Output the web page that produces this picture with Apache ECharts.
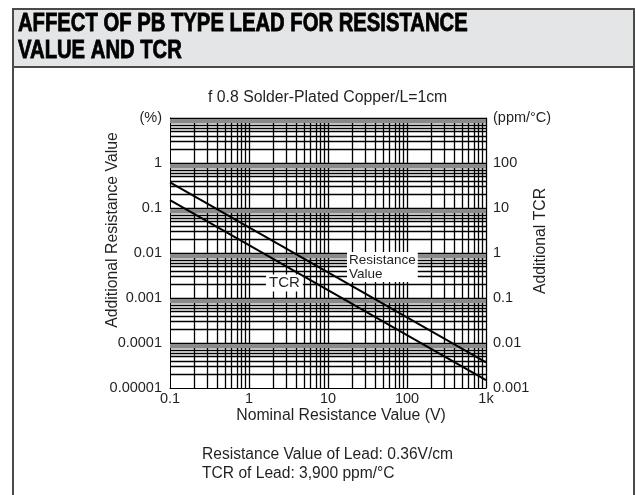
<!DOCTYPE html>
<html>
<head>
<meta charset="utf-8">
<script src="https://cdn.jsdelivr.net/npm/echarts@6/dist/echarts.min.js"></script>
<style>
html, body { margin: 0; padding: 0; background: #fff; }
#main { width: 636px; height: 495px; }
</style>
</head>
<body>
<div id="main"></div>
<script>
var xTickLabels = ['0.1', '1', '10', '100', '1k'];
var yLeftLabels = ['0.00001', '0.0001', '0.001', '0.01', '0.1', '1', '(%)'];
var yRightLabels = ['0.001', '0.01', '0.1', '1', '10', '100', '(ppm/°C)'];

// nominal resistance (ohm) at both ends of the plot
var nominal = [0.1, 1000];
// additional resistance value (%)
var resistanceValue = [0.37, 0.000037];
// additional TCR, drawn on the % scale (x100 = ppm/°C)
var tcrValue = [0.15, 0.000015];

var ink = '#231f20';
var font = 'Liberation Sans';

// log paper lines
var gridLines = [];
var e, m;
for (e = -1; e < 3; e++) {
  for (m = 1; m <= 9; m++) {
    if (e === -1 && m === 1) continue;
    gridLines.push({ xAxis: m * Math.pow(10, e) });
  }
}
gridLines.push({ xAxis: 1000 });
for (e = -5; e < 1; e++) {
  for (m = 1; m <= 9; m++) {
    if (e === -5 && m === 1) continue;
    gridLines.push({ yAxis: m * Math.pow(10, e) });
  }
}
gridLines.push({ yAxis: 10 });
// the grey bands just under each decade line
var greyMant = [0.8, 0.85, 0.9, 0.95];
for (e = -4; e <= 1; e++) {
  greyMant.forEach(function (g) {
    gridLines.push({ yAxis: g * Math.pow(10, e), lineStyle: { color: '#8a8a8a', width: 1 } });
  });
}

var myChart = echarts.init(document.getElementById('main'), null, { renderer: 'canvas' });

function logIdx(v, base) {
  return Math.round(Math.log(v) / Math.LN10) - base;
}

var option = {
  backgroundColor: '#fff',
  animation: false,
  textStyle: { fontFamily: font },
  grid: { left: 170, right: 150, top: 118, bottom: 107 },
  graphic: [
    { type: 'rect', shape: { x: 13, y: 9, width: 621, height: 58 },
      style: { fill: '#e4e5e6', stroke: '#4a4a4a', lineWidth: 2 } },
    { type: 'line', shape: { x1: 13, y1: 67, x2: 13, y2: 495 },
      style: { stroke: '#4a4a4a', lineWidth: 2 } },
    { type: 'line', shape: { x1: 634, y1: 67, x2: 634, y2: 495 },
      style: { stroke: '#4a4a4a', lineWidth: 2 } },
    { type: 'text', x: 18, y: 11, scaleX: 0.81,
      style: { text: 'AFFECT OF PB TYPE LEAD FOR RESISTANCE\nVALUE AND TCR',
        font: 'bold 25px "Liberation Sans"', lineHeight: 27, fill: '#000',
        stroke: '#000', lineWidth: 0.8 } },
    { type: 'text', x: 208, y: 90,
      style: { text: 'f 0.8 Solder-Plated Copper/L=1cm', font: '15.8px "Liberation Sans"', fill: ink } },
    { type: 'text', x: 202, y: 445,
      style: { text: 'Resistance Value of Lead: 0.36V/cm\nTCR of Lead: 3,900 ppm/°C',
        font: '15.6px "Liberation Sans"', lineHeight: 19, fill: ink } }
  ],
  xAxis: {
    type: 'log', min: 0.1, max: 1000, interval: 1,
    name: 'Nominal Resistance Value (V)', nameLocation: 'middle', nameGap: 20,
    nameMoveOverlap: false,
    nameTextStyle: { fontSize: 15.8, color: ink, padding: [0, 0, 0, 26] },
    axisLine: { lineStyle: { color: '#000', width: 1 } },
    axisTick: { show: false },
    splitLine: { show: false },
    axisLabel: { fontSize: 14.5, color: ink, margin: 3, showMinLabel: true, showMaxLabel: true,
      formatter: function (v) { return xTickLabels[logIdx(v, -1)]; } }
  },
  yAxis: [{
    type: 'log', min: 0.00001, max: 10, interval: 1, position: 'left',
    name: 'Additional Resistance Value', nameLocation: 'middle', nameGap: 49, nameRotate: 90,
    nameMoveOverlap: false,
    nameTextStyle: { fontSize: 15.8, color: ink, padding: [0, 0, 0, 46] },
    axisLine: { show: true, lineStyle: { color: '#000', width: 1 } },
    axisTick: { show: false },
    splitLine: { show: false },
    axisLabel: { fontSize: 14.5, color: ink, margin: 8, showMinLabel: true, showMaxLabel: true,
      formatter: function (v) { return yLeftLabels[logIdx(v, -5)]; } }
  }, {
    type: 'log', min: 0.001, max: 1000, interval: 1, position: 'right',
    name: 'Additional TCR', nameLocation: 'middle', nameGap: 47, nameRotate: 90,
    nameMoveOverlap: false,
    nameTextStyle: { fontSize: 15.8, color: ink, padding: [0, 0, 0, 24] },
    axisLine: { show: true, lineStyle: { color: '#000', width: 1 } },
    axisTick: { show: false },
    splitLine: { show: false },
    axisLabel: { fontSize: 14.5, color: ink, margin: 7, showMinLabel: true, showMaxLabel: true,
      formatter: function (v) { return yRightLabels[logIdx(v, -3)]; } }
  }],
  series: [{
    name: 'grid', type: 'line', z: 1, silent: true,
    data: [], symbol: 'none',
    markLine: {
      silent: true, symbol: ['none', 'none'], animation: false, precision: 12,
      label: { show: false },
      lineStyle: { color: '#000', width: 1.3, type: 'solid' },
      data: gridLines
    }
  }, {
    name: 'Resistance Value', type: 'line', z: 5,
    data: nominal.map(function (x, i) { return [x, resistanceValue[i]]; }),
    symbol: 'none', lineStyle: { color: '#000', width: 2 },
    markPoint: {
      symbol: 'circle', symbolSize: 1, itemStyle: { color: 'rgba(0,0,0,0)' },
      label: { show: true, position: 'inside', align: 'left', verticalAlign: 'middle',
        formatter: 'Resistance\nValue', fontSize: 13.5, lineHeight: 14, color: ink,
        backgroundColor: '#fff', padding: [1, 2, 1, 2] },
      data: [{ coord: [17.4, 0.0049] }]
    }
  }, {
    name: 'TCR', type: 'line', z: 5,
    data: nominal.map(function (x, i) { return [x, tcrValue[i]]; }),
    symbol: 'none', lineStyle: { color: '#000', width: 2 },
    markPoint: {
      symbol: 'circle', symbolSize: 1, itemStyle: { color: 'rgba(0,0,0,0)' },
      label: { show: true, position: 'inside', align: 'left', verticalAlign: 'middle',
        formatter: 'TCR', fontSize: 15, color: ink,
        backgroundColor: '#fff', padding: [1, 3, 1, 3] },
      data: [{ coord: [1.64, 0.00215] }]
    }
  }]
};

myChart.setOption(option);
</script>
</body>
</html>
